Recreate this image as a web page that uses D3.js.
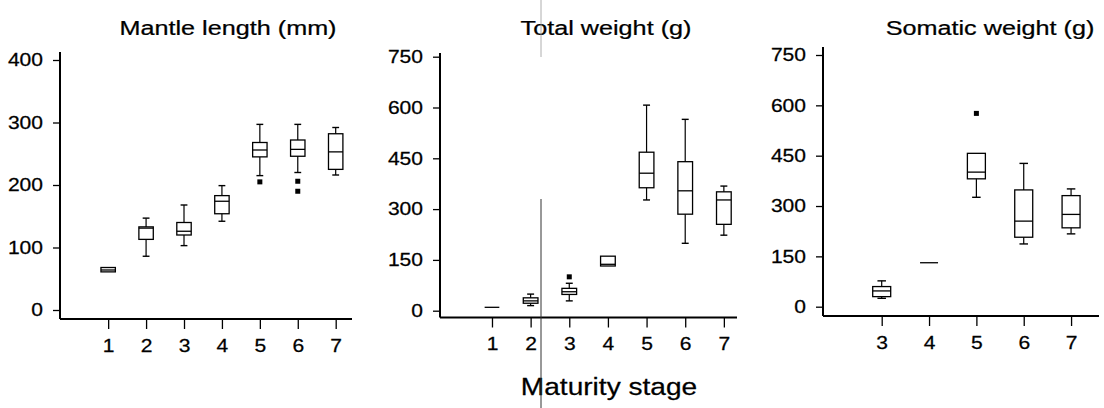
<!DOCTYPE html>
<html>
<head>
<meta charset="utf-8">
<script src="https://cdn.jsdelivr.net/npm/d3@7"></script>
<style>
  body { margin: 0; background: #fff; }
  svg { display: block; font-family: "Liberation Sans", Arial, sans-serif; }
  svg text { stroke: #000; stroke-width: 0.25px; }
</style>
</head>
<body>
<svg id="chart" width="1104" height="408"></svg>
<script>
'use strict';

// Mantle length (mm)
var mlStages = [1, 2, 3, 4, 5, 6, 7];
var mlLow    = [61, 86, 103, 142, 215, 220, 216];
var mlQ1     = [61, 113, 120, 154, 245, 246, 225];
var mlMed    = [64, 131, 126, 174, 256, 257, 253];
var mlQ3     = [68, 133, 140, 183, 268, 272, 282];
var mlHigh   = [68, 147, 168, 199, 297, 297, 292];
var mlOut    = [[5, 205], [6, 206], [6, 190]];
var mlTicks  = [0, 100, 200, 300, 400];

// Total weight (g)
var twStages = [1, 2, 3, 4, 5, 6, 7];
var twLow    = [10, 15, 29, 132, 327, 199, 223];
var twQ1     = [10, 22, 48, 132, 363, 285, 255];
var twMed    = [10, 29, 56, 137, 406, 354, 327];
var twQ3     = [10, 38, 66, 161, 468, 440, 351];
var twHigh   = [10, 49, 81, 161, 607, 565, 368];
var twOut    = [[3, 100]];
var twTicks  = [0, 150, 300, 450, 600, 750];

// Somatic weight (g)
var swStages = [3, 4, 5, 6, 7];
var swLow    = [25, 131, 326, 187, 217];
var swQ1     = [30, 131, 381, 207, 235];
var swMed    = [47, 131, 401, 255, 275];
var swQ3     = [60, 131, 457, 348, 331];
var swHigh   = [77, 131, 457, 427, 351];
var swOut    = [[5, 576]];
var swTicks  = [0, 150, 300, 450, 600, 750];

var SX = 1.17;   // the scan is stretched sideways
var SXT = 1.2;
var ink = '#000';
var svg = d3.select('#chart');

var panels = [
  { title: 'Mantle length (mm)', stages: mlStages, low: mlLow, q1: mlQ1, med: mlMed, q3: mlQ3, high: mlHigh, out: mlOut, ticks: mlTicks,
    x0: 60, x1: 352, padL: 1.27, padR: 0.43, y0: 310, yTop: 60, axisY: 319, axisTop: 52, titleX: 228 },
  { title: 'Total weight (g)', stages: twStages, low: twLow, q1: twQ1, med: twMed, q3: twQ3, high: twHigh, out: twOut, ticks: twTicks,
    x0: 440, x1: 737, padL: 1.345, padR: 0.34, y0: 310.7, yTop: 56.7, axisY: 317.5, axisTop: 53, titleX: 606 },
  { title: 'Somatic weight (g)', stages: swStages, low: swLow, q1: swQ1, med: swMed, q3: swQ3, high: swHigh, out: swOut, ticks: swTicks,
    x0: 823, x1: 1099, padL: 1.24, padR: 0.59, y0: 306.7, yTop: 55, axisY: 316, axisTop: 47, titleX: 990 }
];

panels.forEach(function(p) {
  var first = d3.min(p.stages), last = d3.max(p.stages);
  var x = d3.scaleLinear().domain([first - p.padL, last + p.padR]).range([p.x0, p.x1]);
  var y = d3.scaleLinear().domain([0, d3.max(p.ticks)]).range([p.y0, p.yTop]);
  var step = x(first + 1) - x(first);
  var bw = step * 0.38, cw = step * 0.18;

  var g = svg.append('g');

  // y axis
  var ya = g.append('g').attr('transform', 'translate(' + p.x0 + ',0)')
    .call(d3.axisLeft(y).tickValues(p.ticks).tickSize(7).tickPadding(0).tickFormat(d3.format('d')));
  ya.select('.domain').remove();
  ya.selectAll('line').attr('stroke', ink).attr('stroke-width', 1.3);
  ya.selectAll('text')
    .attr('x', -17 / SX)
    .attr('transform', 'scale(' + SX + ',1)')
    .style('font-size', '18px').attr('fill', ink);
  g.append('line')
    .attr('x1', p.x0).attr('x2', p.x0).attr('y1', p.axisTop).attr('y2', p.axisY)
    .attr('stroke', ink).attr('stroke-width', 2);

  // x axis
  var xa = g.append('g').attr('transform', 'translate(0,' + p.axisY + ')')
    .call(d3.axisBottom(x).tickValues(p.stages).tickSize(10).tickPadding(10).tickFormat(d3.format('d')));
  xa.select('.domain').remove();
  xa.selectAll('line').attr('stroke', ink).attr('stroke-width', 1.3);
  xa.selectAll('text')
    .attr('transform', 'scale(' + SX + ',1)')
    .style('font-size', '18px').attr('fill', ink);
  g.append('line')
    .attr('x1', p.x0).attr('x2', p.x1).attr('y1', p.axisY).attr('y2', p.axisY)
    .attr('stroke', ink).attr('stroke-width', 2);

  // boxes
  var rows = p.stages.map(function(s, i) {
    return { s: s, lo: p.low[i], q1: p.q1[i], med: p.med[i], q3: p.q3[i], hi: p.high[i] };
  });
  var b = g.selectAll('g.box').data(rows).enter().append('g').attr('class', 'box');
  b.append('line')
    .attr('x1', function(d) { return x(d.s); }).attr('x2', function(d) { return x(d.s); })
    .attr('y1', function(d) { return y(d.hi); }).attr('y2', function(d) { return y(d.q3); })
    .attr('stroke', ink).attr('stroke-width', 1.2);
  b.append('line')
    .attr('x1', function(d) { return x(d.s); }).attr('x2', function(d) { return x(d.s); })
    .attr('y1', function(d) { return y(d.q1); }).attr('y2', function(d) { return y(d.lo); })
    .attr('stroke', ink).attr('stroke-width', 1.2);
  ['hi', 'lo'].forEach(function(k) {
    b.filter(function(d) { return d[k] !== d.q3 && d[k] !== d.q1; })
      .append('line')
      .attr('x1', function(d) { return x(d.s) - cw / 2; }).attr('x2', function(d) { return x(d.s) + cw / 2; })
      .attr('y1', function(d) { return y(d[k]); }).attr('y2', function(d) { return y(d[k]); })
      .attr('stroke', ink).attr('stroke-width', 1.4);
  });
  b.append('rect')
    .attr('x', function(d) { return x(d.s) - bw / 2; })
    .attr('y', function(d) { return y(d.q3); })
    .attr('width', bw)
    .attr('height', function(d) { return y(d.q1) - y(d.q3); })
    .attr('fill', 'none').attr('stroke', ink).attr('stroke-width', 1.3);
  b.append('line')
    .attr('x1', function(d) { return x(d.s) - bw / 2; }).attr('x2', function(d) { return x(d.s) + bw / 2; })
    .attr('y1', function(d) { return y(d.med); }).attr('y2', function(d) { return y(d.med); })
    .attr('stroke', ink).attr('stroke-width', 1.3);

  // outliers
  g.selectAll('rect.out').data(p.out).enter().append('rect').attr('class', 'out')
    .attr('x', function(d) { return x(d[0]) - 2.5; })
    .attr('y', function(d) { return y(d[1]) - 2.5; })
    .attr('width', 5).attr('height', 5).attr('fill', ink);

  // title
  g.append('text')
    .attr('transform', 'translate(' + p.titleX + ',35) scale(' + SXT + ',1)')
    .attr('text-anchor', 'middle')
    .style('font-size', '21px').attr('fill', ink)
    .text(p.title);
});

svg.append('text')
  .attr('transform', 'translate(609,395) scale(' + SX + ',1)')
  .attr('text-anchor', 'middle')
  .style('font-size', '24px').attr('fill', ink)
  .text('Maturity stage');

// scanner streak that runs through the original figure
svg.append('line').attr('x1', 541).attr('x2', 541).attr('y1', 199).attr('y2', 408)
  .attr('stroke', '#333').attr('stroke-width', 1);
svg.append('line').attr('x1', 541).attr('x2', 541).attr('y1', 0).attr('y2', 57)
  .attr('stroke', '#999').attr('stroke-width', 0.8);
</script>
</body>
</html>
